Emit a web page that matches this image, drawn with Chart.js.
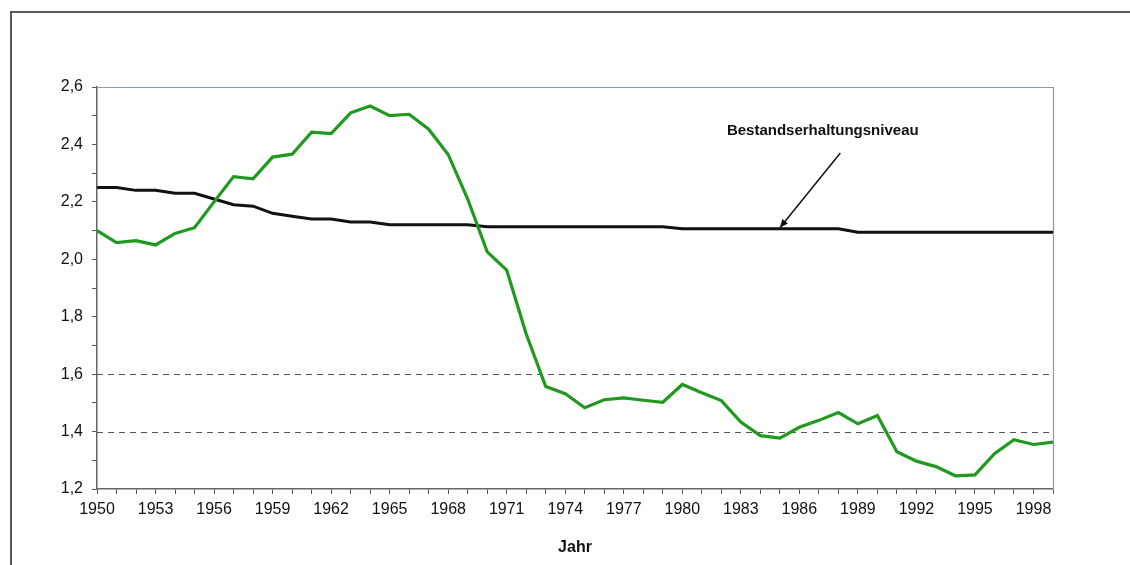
<!DOCTYPE html>
<html>
<head>
<meta charset="utf-8">
<script src="https://cdn.jsdelivr.net/npm/chart.js@4"></script>
<style>
  html, body { margin: 0; padding: 0; background: #fff; }
  #wrap { width: 1130px; height: 565px; position: relative; }
</style>
</head>
<body>
<div id="wrap"><canvas id="c" width="1130" height="565"></canvas></div>
<script>
const years = [];
for (let y = 1950; y <= 1999; y++) years.push(String(y));

const fertilityRate = [
  2.10, 2.058, 2.065, 2.05, 2.09, 2.11, 2.20, 2.288, 2.28, 2.356,
  2.366, 2.443, 2.438, 2.51, 2.534, 2.50, 2.505, 2.453, 2.365, 2.21,
  2.026, 1.962, 1.74, 1.557, 1.532, 1.483, 1.511, 1.517, 1.509, 1.502,
  1.564, 1.535, 1.508, 1.433, 1.386, 1.377, 1.415, 1.439, 1.466, 1.427,
  1.456, 1.33, 1.297, 1.278, 1.246, 1.249, 1.323, 1.372, 1.355, 1.363
];

const replacementLevel = [
  2.25, 2.25, 2.24, 2.24, 2.23, 2.23, 2.21, 2.19, 2.185, 2.16,
  2.15, 2.14, 2.14, 2.13, 2.13, 2.12, 2.12, 2.12, 2.12, 2.12,
  2.113, 2.113, 2.113, 2.113, 2.113, 2.113, 2.113, 2.113, 2.113, 2.113,
  2.106, 2.106, 2.106, 2.106, 2.106, 2.106, 2.106, 2.106, 2.106, 2.094,
  2.094, 2.094, 2.094, 2.094, 2.094, 2.094, 2.094, 2.094, 2.094, 2.094
];

const referenceLevels = [1.4, 1.6];
const yMin = 1.2, yMax = 2.6;
const annotationText = 'Bestandserhaltungsniveau';
const xTitle = 'Jahr';

const framePlugin = {
  id: 'frame',
  beforeDraw(chart) {
    const ctx = chart.ctx;
    ctx.save();
    ctx.strokeStyle = '#5a5a5a';
    ctx.lineWidth = 2;
    ctx.beginPath();
    ctx.moveTo(11, 565);
    ctx.lineTo(11, 12);
    ctx.lineTo(1130, 12);
    ctx.stroke();
    ctx.restore();
  }
};

const areaPlugin = {
  id: 'area',
  beforeDatasetsDraw(chart) {
    const {ctx, chartArea: a, scales: {y}} = chart;
    ctx.save();
    // reference dashed lines
    ctx.strokeStyle = '#555';
    ctx.lineWidth = 1;
    ctx.setLineDash([6, 5]);
    referenceLevels.forEach(v => {
      const py = Math.round(y.getPixelForValue(v)) + 0.5;
      ctx.beginPath();
      ctx.moveTo(a.left, py);
      ctx.lineTo(a.right, py);
      ctx.stroke();
    });
    ctx.setLineDash([]);
    // plot area border (top & right)
    ctx.strokeStyle = '#8c9aa6';
    ctx.lineWidth = 1.2;
    ctx.beginPath();
    ctx.moveTo(a.left, a.top + 0.5);
    ctx.lineTo(a.right + 0.5, a.top + 0.5);
    ctx.lineTo(a.right + 0.5, a.bottom);
    ctx.stroke();
    ctx.restore();
  },
  afterDatasetsDraw(chart) {
    const {ctx, scales: {x, y}} = chart;
    ctx.save();
    ctx.font = 'bold 15px "Liberation Sans", Arial, sans-serif';
    ctx.fillStyle = '#111';
    ctx.textAlign = 'center';
    ctx.textBaseline = 'middle';
    ctx.fillText(annotationText, x.getPixelForValue(37.2), y.getPixelForValue(2.446));
    const x0 = x.getPixelForValue(38.1), y0 = y.getPixelForValue(2.37);
    const x1 = x.getPixelForValue(35.0), y1 = y.getPixelForValue(2.11);
    ctx.strokeStyle = '#111';
    ctx.lineWidth = 1.5;
    ctx.beginPath();
    ctx.moveTo(x0, y0);
    ctx.lineTo(x1, y1);
    ctx.stroke();
    const ang = Math.atan2(y1 - y0, x1 - x0);
    const L = 9, W = 0.4;
    ctx.fillStyle = '#111';
    ctx.beginPath();
    ctx.moveTo(x1, y1);
    ctx.lineTo(x1 - L * Math.cos(ang - W), y1 - L * Math.sin(ang - W));
    ctx.lineTo(x1 - L * Math.cos(ang + W), y1 - L * Math.sin(ang + W));
    ctx.closePath();
    ctx.fill();
    ctx.restore();
  }
};

new Chart(document.getElementById('c'), {
  type: 'line',
  data: {
    labels: years,
    datasets: [
      {
        label: 'Geburtenrate',
        data: fertilityRate,
        borderColor: '#1f9a1f',
        borderWidth: 3.2,
        pointRadius: 0,
        tension: 0,
        fill: false
      },
      {
        label: 'Bestandserhaltungsniveau',
        data: replacementLevel,
        borderColor: '#111',
        borderWidth: 3,
        pointRadius: 0,
        tension: 0,
        fill: false
      }
    ]
  },
  options: {
    responsive: false,
    animation: false,
    devicePixelRatio: 1,
    layout: { padding: { left: 0, right: 77, top: 87, bottom: 4 } },
    plugins: {
      legend: { display: false },
      tooltip: { enabled: false }
    },
    scales: {
      x: {
        type: 'category',
        offset: false,
        afterFit(s) { s.height = 72; },
        grid: {
          drawOnChartArea: false,
          drawTicks: true,
          tickLength: 5,
          tickColor: '#555',
          color: '#555'
        },
        border: { display: true, color: '#666', width: 1.5 },
        ticks: {
          autoSkip: false,
          maxRotation: 0,
          minRotation: 0,
          padding: 6,
          color: '#111',
          font: { family: '"Liberation Sans", Arial, sans-serif', size: 16 },
          callback(value, index) { return index % 3 === 0 ? this.getLabelForValue(value) : ''; }
        },
        title: {
          display: true,
          text: xTitle,
          color: '#111',
          font: { family: '"Liberation Sans", Arial, sans-serif', size: 16, weight: 'bold' },
          padding: { top: 4, bottom: 4 }
        }
      },
      y: {
        min: yMin,
        max: yMax,
        afterFit(s) { s.width = 97; },
        grid: {
          drawOnChartArea: false,
          drawTicks: true,
          tickLength: 5,
          tickColor: '#555',
          color: '#555'
        },
        border: { display: true, color: '#666', width: 1.5 },
        ticks: {
          stepSize: 0.1,
          padding: 9,
          color: '#111',
          font: { family: '"Liberation Sans", Arial, sans-serif', size: 16 },
          callback(v) {
            const k = Math.round(v * 10);
            return k % 2 === 0 ? (k / 10).toFixed(1).replace('.', ',') : '';
          }
        }
      }
    }
  },
  plugins: [framePlugin, areaPlugin]
});
</script>
</body>
</html>
